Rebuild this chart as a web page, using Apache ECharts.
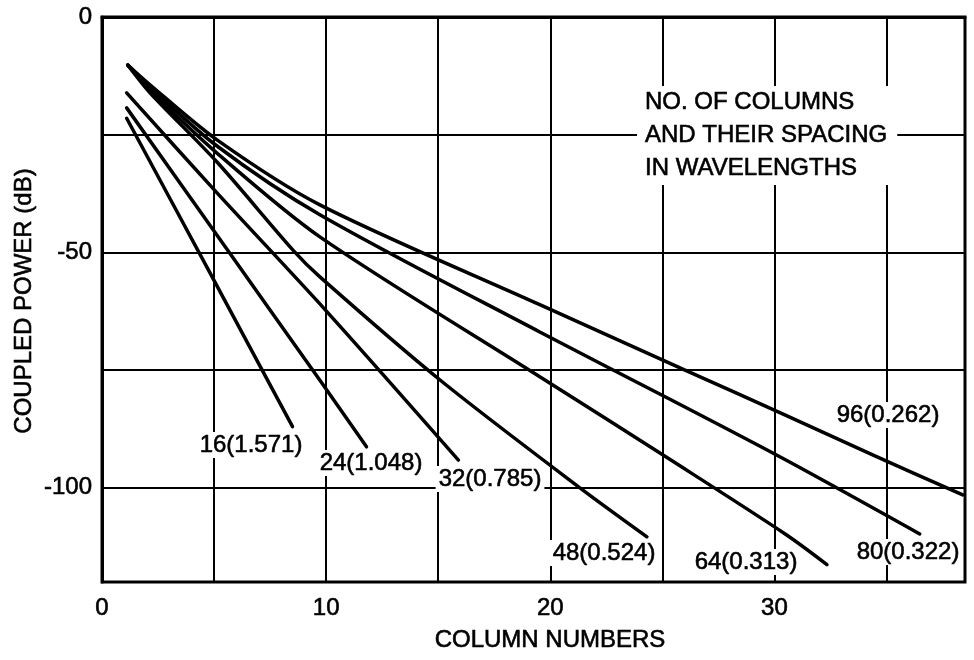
<!DOCTYPE html>
<html>
<head>
<meta charset="utf-8">
<script src="https://cdn.jsdelivr.net/npm/echarts@6/dist/echarts.min.js"></script>
<style>
html,body{margin:0;padding:0;background:#fff;}
#chart{width:974px;height:660px;}
</style>
</head>
<body>
<div id="chart"></div>
<script>
// ---- data ----
const seriesNames = ['16(1.571)', '24(1.048)', '32(0.785)', '48(0.524)', '64(0.313)', '80(0.322)', '96(0.262)'];

const x16 = [1.1, 4.8, 8.5];
const y16 = [-21.5, -54.2, -87.0];

const x24 = [1.1, 5.6, 9.8, 11.8];
const y24 = [-19.3, -49.5, -77.7, -91.3];

const x32 = [1.1, 5.1, 10.0, 15.9];
const y32 = [-16.1, -37.2, -62.4, -94.1];

const x48 = [1.15, 2.14, 5.13, 8.52, 9.72, 15.08, 21.32, 24.31];
const y48 = [-10.2, -16.1, -30.8, -49.5, -55.2, -77.1, -100.0, -110.4];

const x64 = [1.15, 2.14, 5.13, 9.72, 19.53, 25.38, 30.51, 32.34];
const y64 = [-10.2, -15.5, -28.9, -46.7, -76.4, -94.1, -109.9, -116.3];

const x80 = [1.15, 2.14, 5.13, 9.72, 19.53, 25.38, 30.51, 36.48];
const y80 = [-10.2, -14.9, -27.4, -42.0, -66.9, -81.3, -94.1, -109.8];

const x96 = [1.15, 2.14, 5.13, 9.72, 19.53, 25.96, 30.51, 34.43, 38.40];
const y96 = [-10.2, -14.4, -26.1, -39.9, -61.1, -74.9, -84.6, -93.1, -101.5];

const xTickLabels = [0, 10, 20, 30];
const yTickLabels = [0, -50, -100];
const yGridValues = [-100, -75, -50, -25, 0];

const xTitle = 'COLUMN NUMBERS';
const yTitle = 'COUPLED POWER (dB)';
const legendNote = 'NO. OF COLUMNS\nAND THEIR SPACING\nIN WAVELENGTHS';

// ---- build ----
const FONT = '"Liberation Sans", Arial, Helvetica, sans-serif';
const xs = [x16, x24, x32, x48, x64, x80, x96];
const ys = [y16, y24, y32, y48, y64, y80, y96];

const series = seriesNames.map((name, i) => ({
  name: name,
  type: 'line',
  data: xs[i].map((v, j) => [v, ys[i][j]]),
  showSymbol: false,
  smooth: 0.3,
  lineStyle: { color: '#000', width: 3.5, cap: 'round' },
  z: 5
}));

// label placements (pixel layout)
const labelPos = [
  [251, 445], [371, 463], [490, 479], [604, 553], [746, 562], [908, 552], [888, 415]
];

function txt(text, x, y, extra) {
  return Object.assign({
    type: 'text', x: x, y: y, z: 100,
    style: Object.assign({
      text: text, font: '24px ' + FONT, fill: '#000',
      stroke: '#000', lineWidth: 0.6,
      align: 'center', verticalAlign: 'middle',
      textAlign: 'center', textVerticalAlign: 'middle'
    }, (extra && extra.style) || {})
  }, (extra && extra.el) || {});
}

const graphics = seriesNames.map((n, i) =>
  txt(n, labelPos[i][0], labelPos[i][1], { style: { backgroundColor: '#fff', padding: [1, 3, 1, 3] } })
);
graphics.push(txt(legendNote, 637, 86, {
  style: { align: 'left', textAlign: 'left', verticalAlign: 'top', textVerticalAlign: 'top',
           lineHeight: 33, backgroundColor: '#fff', padding: [0, 10, 0, 8] }
}));
graphics.push(txt(xTitle, 550, 640));
graphics.push(txt(yTitle, 24, 301, { el: { rotation: Math.PI / 2 } }));

const axisLabelBase = {
  fontSize: 24, fontFamily: FONT, color: '#000',
  textBorderColor: '#000', textBorderWidth: 0.6
};

const chart = echarts.init(document.getElementById('chart'), null, { renderer: 'canvas' });
chart.setOption({
  animation: false,
  backgroundColor: '#fff',
  grid: { left: 102, right: 9, top: 17, bottom: 78, show: true, borderColor: '#000', borderWidth: 3 },
  xAxis: {
    type: 'value', min: 0, max: 38.5, interval: 5,
    axisLine: { show: true, lineStyle: { color: '#000', width: 3 } },
    axisTick: { show: false },
    splitLine: { show: true, lineStyle: { color: '#000', width: 2 } },
    axisLabel: Object.assign({}, axisLabelBase, {
      margin: 14,
      showMaxLabel: false,
      formatter: v => (xTickLabels.indexOf(v) >= 0 ? String(v) : '')
    })
  },
  yAxis: {
    type: 'value', min: -120, max: 0,
    axisLine: { show: true, lineStyle: { color: '#000', width: 3 } },
    axisTick: { show: false, customValues: yGridValues },
    splitLine: { show: true, lineStyle: { color: '#000', width: 2 } },
    axisLabel: Object.assign({}, axisLabelBase, {
      margin: 10,
      customValues: yTickLabels,
      formatter: v => (yTickLabels.indexOf(v) >= 0 ? String(v) : '')
    })
  },
  series: series,
  graphic: graphics
});
</script>
</body>
</html>
